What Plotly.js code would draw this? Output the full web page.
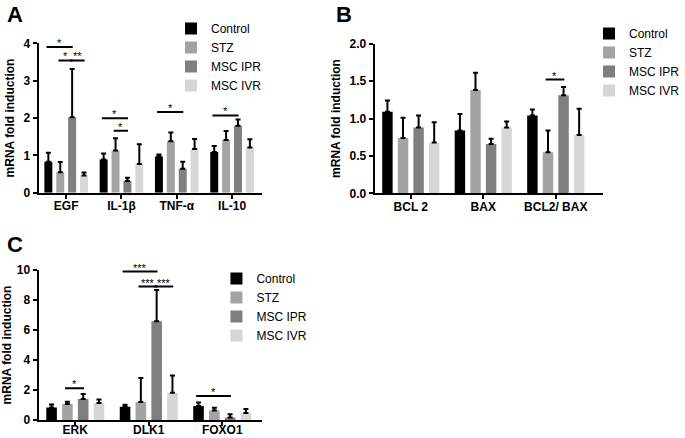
<!DOCTYPE html>
<html>
<head>
<meta charset="utf-8">
<script src="https://cdn.plot.ly/plotly-3.0.1.min.js"></script>
<style>html,body{margin:0;padding:0;background:#fff}#chart{width:685px;height:438px}</style>
</head>
<body>
<div id="chart"></div>
<script>
// ---------- data ----------
const groups = ['Control', 'STZ', 'MSC IPR', 'MSC IVR'];
const groupColors = ['#000000', '#a3a3a3', '#7f7f7f', '#d6d6d6'];

// Panel A
const catsA = ['EGF', 'IL-1β', 'TNF-α', 'IL-10'];
const meanA_Control = [0.83, 0.89, 0.97, 1.09];
const meanA_STZ     = [0.55, 1.13, 1.38, 1.41];
const meanA_IPR     = [2.02, 0.31, 0.64, 1.79];
const meanA_IVR     = [0.46, 0.77, 1.17, 1.21];
const errA_Control  = [0.24, 0.16, 0.05, 0.16];
const errA_STZ      = [0.27, 0.33, 0.23, 0.24];
const errA_IPR      = [1.29, 0.09, 0.19, 0.17];
const errA_IVR      = [0.08, 0.53, 0.27, 0.22];

// Panel B
const catsB = ['BCL 2', 'BAX', 'BCL2/ BAX'];
const meanB_Control = [1.09, 0.84, 1.04];
const meanB_STZ     = [0.74, 1.38, 0.55];
const meanB_IPR     = [0.88, 0.66, 1.31];
const meanB_IVR     = [0.68, 0.88, 0.78];
const errB_Control  = [0.15, 0.22, 0.08];
const errB_STZ      = [0.27, 0.23, 0.29];
const errB_IPR      = [0.16, 0.07, 0.11];
const errB_IVR      = [0.27, 0.08, 0.35];

// Panel C
const catsC = ['ERK', 'DLK1', 'FOXO1'];
const meanC_Control = [0.84, 0.89, 0.93];
const meanC_STZ     = [1.07, 1.20, 0.64];
const meanC_IPR     = [1.40, 6.58, 0.16];
const meanC_IVR     = [1.13, 1.82, 0.47];
const errC_Control  = [0.20, 0.13, 0.23];
const errC_STZ      = [0.15, 1.60, 0.18];
const errC_IPR      = [0.33, 2.09, 0.22];
const errC_IVR      = [0.23, 1.14, 0.26];

// significance brackets: category index, from group, to group, height, label
const sigA_cat   = [0, 0, 0, 1, 1, 2, 3];
const sigA_from  = [0, 1, 2, 0, 1, 0, 0];
const sigA_to    = [2, 2, 3, 2, 2, 2, 2];
const sigA_y     = [3.9, 3.54, 3.54, 1.99, 1.66, 2.16, 2.07];
const sigA_label = ['*', '*', '**', '*', '*', '*', '*'];

const sigB_cat   = [2];
const sigB_from  = [1];
const sigB_to    = [2];
const sigB_y     = [1.52];
const sigB_label = ['*'];

const sigC_cat   = [0, 1, 1, 1, 2];
const sigC_from  = [1, 0, 1, 2, 0];
const sigC_to    = [2, 2, 2, 3, 2];
const sigC_y     = [2.11, 9.9, 8.9, 8.9, 1.6];
const sigC_label = ['*', '***', '***', '***', '*'];

// ---------- build ----------
const FONT = 'Liberation Sans, Arial, sans-serif';
const BARGAP = 0.14;
const slot = (1 - BARGAP) / 4;

const panels = [
  {cats: catsA, means: [meanA_Control, meanA_STZ, meanA_IPR, meanA_IVR],
   errs: [errA_Control, errA_STZ, errA_IPR, errA_IVR], xa: 'x', ya: 'y', legend: 'legend',
   sig: [sigA_cat, sigA_from, sigA_to, sigA_y, sigA_label]},
  {cats: catsB, means: [meanB_Control, meanB_STZ, meanB_IPR, meanB_IVR],
   errs: [errB_Control, errB_STZ, errB_IPR, errB_IVR], xa: 'x2', ya: 'y2', legend: 'legend2',
   sig: [sigB_cat, sigB_from, sigB_to, sigB_y, sigB_label]},
  {cats: catsC, means: [meanC_Control, meanC_STZ, meanC_IPR, meanC_IVR],
   errs: [errC_Control, errC_STZ, errC_IPR, errC_IVR], xa: 'x3', ya: 'y3', legend: 'legend3',
   sig: [sigC_cat, sigC_from, sigC_to, sigC_y, sigC_label]}
];

const traces = [];
const shapes = [];
const annotations = [];

panels.forEach(p => {
  groups.forEach((g, gi) => {
    traces.push({
      type: 'bar', name: g, x: p.cats.map((c, i) => i), y: p.means[gi],
      xaxis: p.xa, yaxis: p.ya, legend: p.legend,
      marker: {color: groupColors[gi], line: {width: 0}},
      error_y: {type: 'data', array: p.errs[gi], arrayminus: p.errs[gi].map(() => 0),
                symmetric: false, color: '#000', thickness: 2, width: 2.5},
      hoverinfo: 'skip'
    });
  });
  const [cat, from, to, yy, lab] = p.sig;
  cat.forEach((c, k) => {
    const x0 = c + (from[k] - 1.5) * slot - 0.15 * slot;
    const x1 = c + (to[k] - 1.5) * slot + 0.05 * slot;
    shapes.push({type: 'line', xref: p.xa, yref: p.ya, x0: x0, x1: x1, y0: yy[k], y1: yy[k],
                 line: {color: '#000', width: 2}});
    annotations.push({xref: p.xa, yref: p.ya, x: (x0 + x1) / 2, y: yy[k], text: lab[k],
                      showarrow: false, yanchor: 'bottom', yshift: -4,
                      font: {family: FONT, size: 11, color: '#000'}});
  });
});

// panel letters
[['A', 0.008, 1.0], ['B', 0.494, 1.0], ['C', 0.008, 0.475]].forEach(([t, x, y]) => {
  annotations.push({xref: 'paper', yref: 'paper', x: x, y: y, xanchor: 'left', yanchor: 'top',
                    text: '<b>' + t + '</b>', showarrow: false,
                    font: {family: FONT, size: 22, color: '#000'}});
});

const W = 685, H = 438;
function xd(a, b) { return [a / W, b / W]; }
function yd(top, bot) { return [1 - bot / H, 1 - top / H]; }

const xax = (dom, n, anchor, so) => ({
  domain: dom, anchor: anchor, range: [-0.5, n - 0.5 + 0.04], tickmode: 'array',
  showline: true, linecolor: '#000', linewidth: 2, ticks: 'outside', ticklen: 4, tickwidth: 2,
  tickcolor: '#000', showgrid: false, zeroline: false, fixedrange: true, ticklabelstandoff: so,
  tickfont: {family: FONT, size: 12, color: '#000', weight: 'bold'}
});
const yax = (dom, rng, dt, anchor, fmt) => ({
  domain: dom, anchor: anchor, range: rng, dtick: dt, tick0: 0, tickformat: fmt,
  showline: true, linecolor: '#000', linewidth: 2, ticks: 'outside', ticklen: 4, tickwidth: 2,
  tickcolor: '#000', showgrid: false, zeroline: false, fixedrange: true,
  tickfont: {family: FONT, size: 12, color: '#000', weight: 'bold'},
  title: {text: 'mRNA fold induction', standoff: 6,
          font: {family: FONT, size: 12, color: '#000', weight: 'bold'}}
});

const xa1 = xax(xd(39, 265), catsA.length, 'y', -3);
xa1.tickvals = catsA.map((c, i) => i); xa1.ticktext = catsA;
const xa2 = xax(xd(379, 610), catsB.length, 'y2', -3);
xa2.tickvals = catsB.map((c, i) => i); xa2.ticktext = catsB; xa2.range = [-0.5, 2.65];
const xa3 = xax(xd(39, 265), catsC.length, 'y3', -6);
xa3.tickvals = catsC.map((c, i) => i); xa3.ticktext = catsC;

const ya1 = yax(yd(43.3, 192.7), [0, 4], 1, 'x', 'd');
const ya2 = yax(yd(43.7, 193.3), [0, 2], 0.5, 'x2', '.1f');
const ya3 = yax(yd(270, 420), [0, 10], 2, 'x3', 'd');

const legendBase = (x, y) => ({
  x: x, y: y, xanchor: 'left', yanchor: 'top', bgcolor: 'rgba(0,0,0,0)',
  font: {family: FONT, size: 12, color: '#000'}, tracegroupgap: 0, itemclick: false
});

const layout = {
  width: W, height: H, margin: {l: 0, r: 0, t: 0, b: 0},
  paper_bgcolor: '#fff', plot_bgcolor: '#fff',
  barmode: 'group', bargap: BARGAP, bargroupgap: 0.33,
  xaxis: xa1, yaxis: ya1, xaxis2: xa2, yaxis2: ya2, xaxis3: xa3, yaxis3: ya3,
  legend: legendBase(173 / W, 1 - 14 / H),
  legend2: legendBase(596 / W, 1 - 19 / H),
  legend3: legendBase(219 / W, 1 - 264 / H),
  shapes: shapes, annotations: annotations, showlegend: true
};

Plotly.newPlot('chart', traces, layout, {displayModeBar: false, staticPlot: true});
</script>
</body>
</html>
